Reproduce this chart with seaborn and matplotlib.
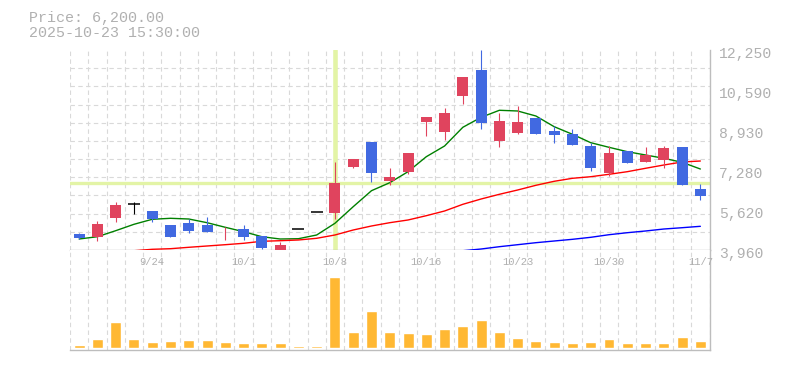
import numpy as np
import pandas as pd
import matplotlib
matplotlib.use("Agg")
import matplotlib.pyplot as plt
import matplotlib.transforms as mtransforms
import seaborn as sns

# trading days shown on the chart
dates = ["9/17", "9/18", "9/19", "9/22", "9/24", "9/25", "9/26", "9/29", "9/30",
         "10/1", "10/2", "10/3", "10/6", "10/7", "10/8", "10/9", "10/10", "10/14",
         "10/15", "10/16", "10/17", "10/20", "10/21", "10/22", "10/23", "10/24",
         "10/27", "10/28", "10/29", "10/30", "10/31", "11/4", "11/5", "11/6", "11/7"]
date_labels = ["9/24", "10/1", "10/8", "10/16", "10/23", "10/30", "11/7"]

# OHLC (yen)
opens = [4623, 4511, 5299, 5867, 5577, 4996, 5092, 4996, 4650, 4830, 4540, 3960,
         4830, 5522, 5506, 7413, 8437, 6832, 7206, 9278, 8864, 10356, 11421, 8491,
         8810, 9444, 8893, 8768, 8271, 7152, 8064, 7608, 7691, 8230, 6488]
highs = [4677, 5162, 5950, 5937, 5577, 4996, 5232, 5328, 4901, 4996, 4540, 4279,
         4830, 5522, 7595, 7732, 8437, 7359, 7981, 9473, 9846, 11143, 12250, 9651,
         9929, 9444, 9100, 8975, 8395, 8271, 8064, 8230, 8271, 8230, 6696]
lows = [4403, 4333, 5133, 5465, 5121, 4511, 4677, 4706, 4375, 4375, 4001, 3950,
        4830, 5522, 5245, 7371, 6791, 6654, 7110, 8698, 8520, 10011, 8975, 8242,
        8768, 8768, 8408, 8312, 7235, 7027, 7566, 7608, 7359, 6654, 6033]
closes = [4457, 5038, 5825, 5867, 5257, 4511, 4748, 4706, 4680, 4499, 4043, 4167,
          4830, 5522, 6725, 7732, 7164, 6998, 7981, 9473, 9651, 11143, 9236, 9307,
          9266, 8768, 8727, 8312, 7359, 7981, 7566, 7898, 8188, 6654, 6200]

# volume (thousand shares)
volume = [30, 90, 263, 90, 60, 70, 80, 80, 60, 50, 50, 50, 25, 25, 713, 160, 370,
          160, 150, 140, 190, 220, 280, 160, 100, 70, 60, 50, 60, 90, 50, 50, 50,
          110, 70]

# moving averages
ma_short = [4416, 4511, 4760, 5025, 5233, 5274, 5245, 5092, 4901, 4719, 4511, 4416,
            4428, 4582, 5067, 5755, 6418, 6750, 7206, 7827, 8271, 9046, 9460, 9751,
            9722, 9514, 9071, 8756, 8408, 8217, 8035, 7898, 7761, 7595, 7317]
ma_mid = [np.nan, np.nan, np.nan, 3930, 3989, 4014, 4072, 4126, 4180, 4238, 4321,
          4345, 4375, 4445, 4582, 4789, 4955, 5092, 5204, 5382, 5577, 5854, 6074,
          6269, 6447, 6642, 6808, 6932, 6998, 7098, 7206, 7347, 7483, 7608, 7649]
ma_long = [np.nan] * 21 + [3930, 4001, 4097, 4180, 4263, 4333, 4403, 4486, 4594,
                           4677, 4748, 4830, 4884, 4942]

y_min, y_max = 3960, 12250
crosshair_day = "10/8"

RED = "#E0445E"
BLUE = "#4169E1"
ORANGE = "#FFB833"
CROSS = "#E3F4A6"
GRID = "#D9D9D9"
AXIS = "#BDBDBD"
TEXT = "#B0B0B0"

sns.set_theme(style="white")
plt.rcParams['font.family'] = ['Liberation Mono', 'DejaVu Sans Mono']

df = pd.DataFrame({"date": dates, "open": opens, "high": highs, "low": lows,
                   "close": closes, "volume": volume,
                   "ma_short": ma_short, "ma_mid": ma_mid, "ma_long": ma_long})
df["idx"] = np.arange(len(df))

fig = plt.figure(figsize=(7.85, 3.70), dpi=100)
fig.patch.set_facecolor("white")
ax = fig.add_axes([70 / 785, 120 / 370, 639.5 / 785, 200 / 370])
axv = fig.add_axes([70 / 785, 20 / 370, 639.5 / 785, 100 / 370])

# crosshair
k_cross = dates.index(crosshair_day)
ax.axvline(k_cross, color=CROSS, lw=3.3, zorder=1.5)
ax.axhline(df.loc[k_cross, "close"], color=CROSS, lw=2.4, zorder=1.5)

# moving averages
sns.lineplot(data=df, x="idx", y="ma_short", color="#008000", lw=1.0, ax=ax, zorder=3)
sns.lineplot(data=df, x="idx", y="ma_mid", color="#FF0000", lw=1.0, ax=ax, zorder=3)
sns.lineplot(data=df, x="idx", y="ma_long", color="#0000FF", lw=1.0, ax=ax, zorder=3)

# candles
up = df["close"] > df["open"]
down = df["close"] < df["open"]
flat = ~(up | down)
colors = np.where(up, RED, np.where(down, BLUE, "black"))
ax.vlines(df["idx"], df["low"], df["high"], colors=colors, lw=0.8, zorder=4)
body = ~flat
ax.bar(df["idx"][body], (df["close"] - df["open"]).abs()[body],
       bottom=np.minimum(df["open"], df["close"])[body], width=0.6,
       color=colors[body.values], linewidth=0, zorder=5)
ax.hlines(df["close"][flat], df["idx"][flat] - 0.33, df["idx"][flat] + 0.33,
          colors="black", lw=1.1, zorder=5)

ax.set_xlim(-0.5, len(df) - 0.5)
ax.set_ylim(y_min, y_max)
major = np.linspace(y_min, y_max, 6)
ax.set_yticks(major)
ax.set_yticklabels([f"{int(round(v / 10) * 10):,}" for v in major])
ax.set_yticks(np.linspace(y_min, y_max, 12), minor=True)
ax.set_xticks([])
ax.set_xticks(np.arange(-0.5, len(df), 1), minor=True)
ax.yaxis.tick_right()
ax.tick_params(axis="y", which="major", length=0, pad=7, labelsize=10.6, labelcolor=TEXT)
ax.tick_params(which="minor", length=0)
shift = mtransforms.ScaledTranslation(0, -2.5 / 100, fig.dpi_scale_trans)
for lbl in ax.get_yticklabels():
    lbl.set_transform(lbl.get_transform() + shift)
ax.grid(which="minor", color=GRID, lw=0.8, ls=(0, (4, 3)))
ax.set_xlabel("")
ax.set_ylabel("")
ax.spines[["top", "left"]].set_visible(False)
for s in ["right", "bottom"]:
    ax.spines[s].set_color(AXIS)
    ax.spines[s].set_linewidth(1.0)

# volume
sns.barplot(data=df, x="idx", y="volume", color=ORANGE, width=0.6, saturation=1,
            ax=axv, zorder=3)
axv.set_xlim(-0.5, len(df) - 0.5)
axv.set_ylim(-20, 980)
axv.set_xticks([])
axv.set_xticks(np.arange(-0.5, len(df), 1), minor=True)
axv.set_yticks([])
axv.tick_params(which="minor", length=0)
axv.grid(which="minor", axis="x", color=GRID, lw=0.8, ls=(0, (4, 3)))
axv.set_xlabel("")
axv.set_ylabel("")
axv.spines[["top", "left"]].set_visible(False)
for s in ["right", "bottom"]:
    axv.spines[s].set_color(AXIS)
    axv.spines[s].set_linewidth(1.0)

trans = mtransforms.blended_transform_factory(axv.transData, axv.transAxes)
for lab in date_labels:
    axv.text(dates.index(lab), 0.883, lab, transform=trans, ha="center", va="center",
             fontsize=7.6, color=TEXT, zorder=6)

# header
fig.text(29 / 785, 1 - 18 / 370, f"Price: {closes[-1]:,.2f}", ha="left", va="center",
         fontsize=10.8, color=TEXT)
fig.text(29 / 785, 1 - 33 / 370, "2025-10-23 15:30:00", ha="left", va="center",
         fontsize=10.8, color=TEXT)

fig.savefig("out.png", dpi=100, facecolor="white")
